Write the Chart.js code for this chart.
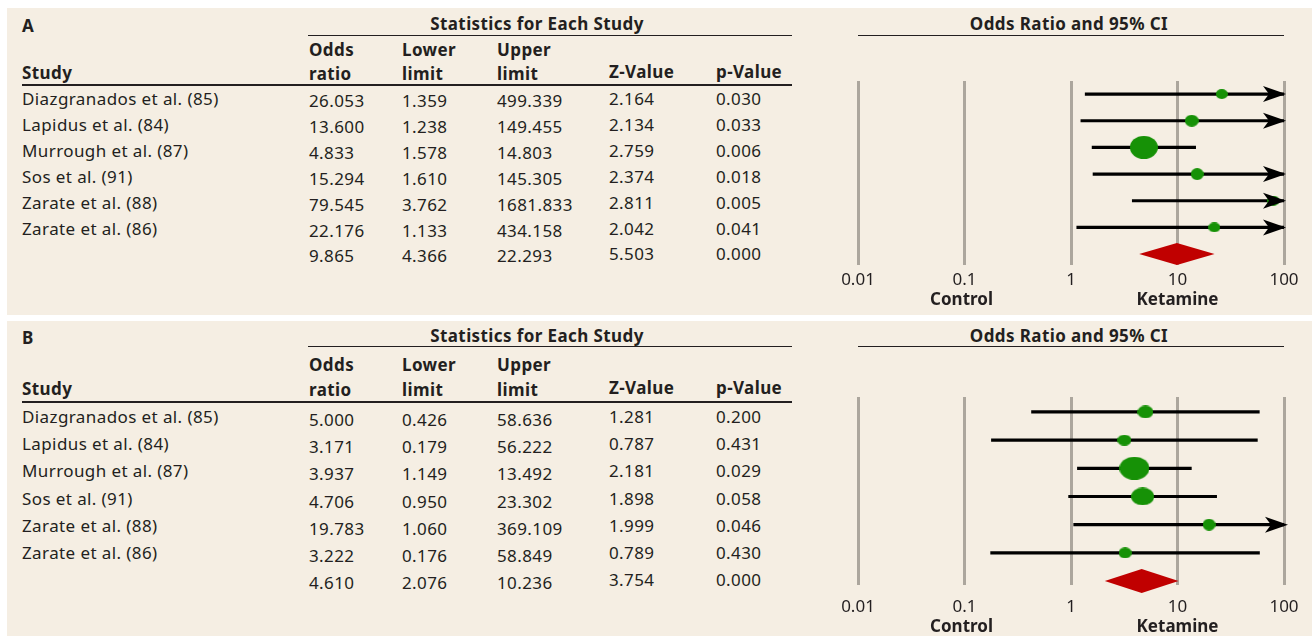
<!DOCTYPE html>
<html>
<head>
<meta charset="utf-8">
<script src="https://cdn.jsdelivr.net/npm/chart.js@4.4.1/dist/chart.umd.min.js"></script>
<style>
  body { margin: 0; width: 1312px; height: 636px; background: #fff; position: relative; overflow: hidden;
         font-family: "Noto Sans", sans-serif; color: #231f20; }
  .panel { position: absolute; left: 7px; width: 1305px; background: #f5eee3; }
  .t { position: absolute; white-space: nowrap; font-size: 17px; letter-spacing: 0.4px; line-height: 1; transform: translateY(-50%); }
  .b { font-weight: bold; }
  .c { transform: translate(-50%, -50%); }
  .rule { position: absolute; height: 0; border-top: 1.5px solid #231f20; }
</style>
</head>
<body>
<script>
// ---- data ----
const studies = ['Diazgranados et al. (85)', 'Lapidus et al. (84)', 'Murrough et al. (87)',
                 'Sos et al. (91)', 'Zarate et al. (88)', 'Zarate et al. (86)'];

// panel A
const orA    = [26.053, 13.600, 4.833, 15.294, 79.545, 22.176];
const lowA   = [1.359, 1.238, 1.578, 1.610, 3.762, 1.133];
const upA    = [499.339, 149.455, 14.803, 145.305, 1681.833, 434.158];
const zA     = [2.164, 2.134, 2.759, 2.374, 2.811, 2.042];
const pA     = [0.030, 0.033, 0.006, 0.018, 0.005, 0.041];
const pooledA = [9.865, 4.366, 22.293, 5.503, 0.000];

// panel B
const orB    = [5.000, 3.171, 3.937, 4.706, 19.783, 3.222];
const lowB   = [0.426, 0.179, 1.149, 0.950, 1.060, 0.176];
const upB    = [58.636, 56.222, 13.492, 23.302, 369.109, 58.849];
const zB     = [1.281, 0.787, 2.181, 1.898, 1.999, 0.789];
const pB     = [0.200, 0.431, 0.029, 0.058, 0.046, 0.430];
const pooledB = [4.610, 2.076, 10.236, 3.754, 0.000];

const xTicks = [0.01, 0.1, 1, 10, 100];
const xTickLabels = ['0.01', '0.1', '1', '10', '100'];

// marker box sizes (w, h) for the study weights
const markA = [[12, 10], [14, 12], [28, 23], [13, 12], [12, 10], [12, 10]];
const markB = [[16, 13], [14, 11], [30, 23], [23, 18], [13, 12], [13, 11]];

// ---- layout ----
const colX = [309, 402, 497, 609, 716];
const panels = [
  { id: 'A', top: 8, height: 307, headY: 23, topRule: 35, oddsY: 49, studyY: 72, rule: 84,
    rowY0: 98, rowStep: 25.9, numDy: 2,
    plotTop: 81, plotBottom: 265, yMin: -0.49, yMax: 6.41, tickPad: 5, labDy: 35, arrowOver: 2, dia: 11,
    or: orA, lo: lowA, hi: upA, z: zA, p: pA, pooled: pooledA, mark: markA },
  { id: 'B', top: 321, height: 315, headY: 335, topRule: 346, oddsY: 364, studyY: 388, rule: 401,
    rowY0: 416, rowStep: 27.2, numDy: 3,
    plotTop: 397, plotBottom: 585, yMin: -0.53, yMax: 6.14, tickPad: 12, labDy: 42, arrowOver: 4, dia: 12,
    or: orB, lo: lowB, hi: upB, z: zB, p: pB, pooled: pooledB, mark: markB }
];

function addText(txt, x, y, cls) {
  const d = document.createElement('div');
  d.className = 't ' + (cls || '');
  d.textContent = txt;
  d.style.left = x + 'px';
  d.style.top = y + 'px';
  document.body.appendChild(d);
}
function addRule(x1, x2, y, w) {
  const d = document.createElement('div');
  d.className = 'rule';
  d.style.left = x1 + 'px';
  d.style.width = (x2 - x1) + 'px';
  d.style.top = y + 'px';
  if (w) d.style.borderTopWidth = w + 'px';
  document.body.appendChild(d);
}

function ellipse(w, h) {
  const c = document.createElement('canvas');
  c.width = w; c.height = h;
  const g = c.getContext('2d');
  g.fillStyle = '#169106';
  g.beginPath();
  g.ellipse(w / 2, h / 2, w / 2, h / 2, 0, 0, Math.PI * 2);
  g.fill();
  return c;
}

// arrows past the axis end, pooled diamond and the side labels
const forestExtras = {
  id: 'forestExtras',
  afterDatasetsDraw(chart, args, o) {
    const { ctx, scales: { x, y }, chartArea } = chart;
    ctx.save();
    ctx.fillStyle = '#000';
    o.hi.forEach((h, i) => {
      if (h <= x.max) return;
      const tip = x.getPixelForValue(x.max) + o.arrowOver;
      const py = y.getPixelForValue(i);
      ctx.beginPath();
      ctx.moveTo(tip, py);
      ctx.lineTo(tip - 23, py - 8);
      ctx.lineTo(tip - 17, py);
      ctx.lineTo(tip - 23, py + 8);
      ctx.closePath();
      ctx.fill();
    });
    const py = y.getPixelForValue(o.or.length);
    ctx.fillStyle = '#c00000';
    ctx.beginPath();
    ctx.moveTo(x.getPixelForValue(o.pooled[1]), py);
    ctx.lineTo(x.getPixelForValue(o.pooled[0]), py - o.dia);
    ctx.lineTo(x.getPixelForValue(o.pooled[2]), py);
    ctx.lineTo(x.getPixelForValue(o.pooled[0]), py + o.dia);
    ctx.closePath();
    ctx.fill();

    ctx.fillStyle = '#231f20';
    ctx.font = 'bold 17px "Noto Sans"';
    ctx.textAlign = 'center';
    ctx.textBaseline = 'middle';
    ctx.fillText('Control', x.getPixelForValue(0.1) - 3, chartArea.bottom + o.labDy);
    ctx.fillText('Ketamine', x.getPixelForValue(10), chartArea.bottom + o.labDy);
    ctx.restore();
  }
};

panels.forEach(P => {
  const bg = document.createElement('div');
  bg.className = 'panel';
  bg.style.top = P.top + 'px';
  bg.style.height = P.height + 'px';
  document.body.appendChild(bg);

  // table side
  addText(P.id, 22, P.headY + 2, 'b');
  addText('Statistics for Each Study', 537, P.headY, 'b c');
  addRule(308, 792, P.topRule);
  addText('Odds', colX[0], P.oddsY, 'b');
  addText('Lower', colX[1], P.oddsY, 'b');
  addText('Upper', colX[2], P.oddsY, 'b');
  addText('Study', 22, P.studyY, 'b');
  addText('ratio', colX[0], P.studyY + 1, 'b');
  addText('limit', colX[1], P.studyY + 1, 'b');
  addText('limit', colX[2], P.studyY + 1, 'b');
  addText('Z-Value', colX[3], P.studyY - 1, 'b');
  addText('p-Value', colX[4], P.studyY - 1, 'b');
  addRule(22, 792, P.rule, 2);

  const rows = P.or.map((v, i) => [studies[i], v, P.lo[i], P.hi[i], P.z[i], P.p[i]]);
  rows.push([''].concat(P.pooled));
  rows.forEach((r, i) => {
    const y = P.rowY0 + i * P.rowStep;
    if (r[0]) addText(r[0], 22, y);
    for (let c = 0; c < 5; c++) {
      addText(r[c + 1].toFixed(3), colX[c], y + (c < 3 ? P.numDy : 0));
    }
  });

  // plot side
  addText('Odds Ratio and 95% CI', 1069, P.headY, 'b c');
  addRule(858, 1284, P.topRule);

  const wrap = document.createElement('div');
  wrap.style.cssText = `position:absolute;left:840px;top:${P.top}px;width:472px;height:${P.height}px;`;
  const cv = document.createElement('canvas');
  wrap.appendChild(cv);
  document.body.appendChild(wrap);

  const axisH = P.top + P.height - P.plotBottom;
  new Chart(cv, {
    data: {
      datasets: [
        {
          type: 'scatter',
          data: P.or.map((v, i) => ({ x: v, y: i })),
          pointStyle: P.mark.map(m => ellipse(m[0], m[1])),
          pointRadius: 6,
          order: 0
        },
        {
          type: 'bar',
          indexAxis: 'y',
          data: P.or.map((v, i) => ({ x: [P.lo[i], P.hi[i]], y: i })),
          backgroundColor: '#000',
          barThickness: 2.5,
          borderWidth: 0,
          order: 1
        }
      ]
    },
    options: {
      responsive: true,
      maintainAspectRatio: false,
      animation: false,
      events: [],
      layout: { padding: { top: P.plotTop - P.top, left: 18, right: 28, bottom: 0 } },
      plugins: {
        legend: { display: false },
        tooltip: { enabled: false },
        forestExtras: { or: P.or, hi: P.hi, pooled: P.pooled, arrowOver: P.arrowOver, dia: P.dia, labDy: P.labDy }
      },
      scales: {
        x: {
          type: 'logarithmic',
          min: 0.01,
          max: 100,
          afterBuildTicks: s => { s.ticks = xTicks.map(v => ({ value: v })); },
          afterFit: s => { s.height = axisH; s.paddingLeft = 0; s.paddingRight = 0; },
          ticks: {
            callback: (v, i) => xTickLabels[i],
            autoSkip: false,
            maxRotation: 0,
            padding: P.tickPad,
            color: '#231f20',
            font: { family: '"Noto Sans"', size: 17 }
          },
          grid: { color: '#aca69d', lineWidth: 3, drawTicks: false },
          border: { display: false }
        },
        y: {
          type: 'linear',
          reverse: true,
          offset: false,
          min: P.yMin,
          max: P.yMax,
          display: false
        }
      }
    },
    plugins: [forestExtras]
  });
});
</script>
</body>
</html>
